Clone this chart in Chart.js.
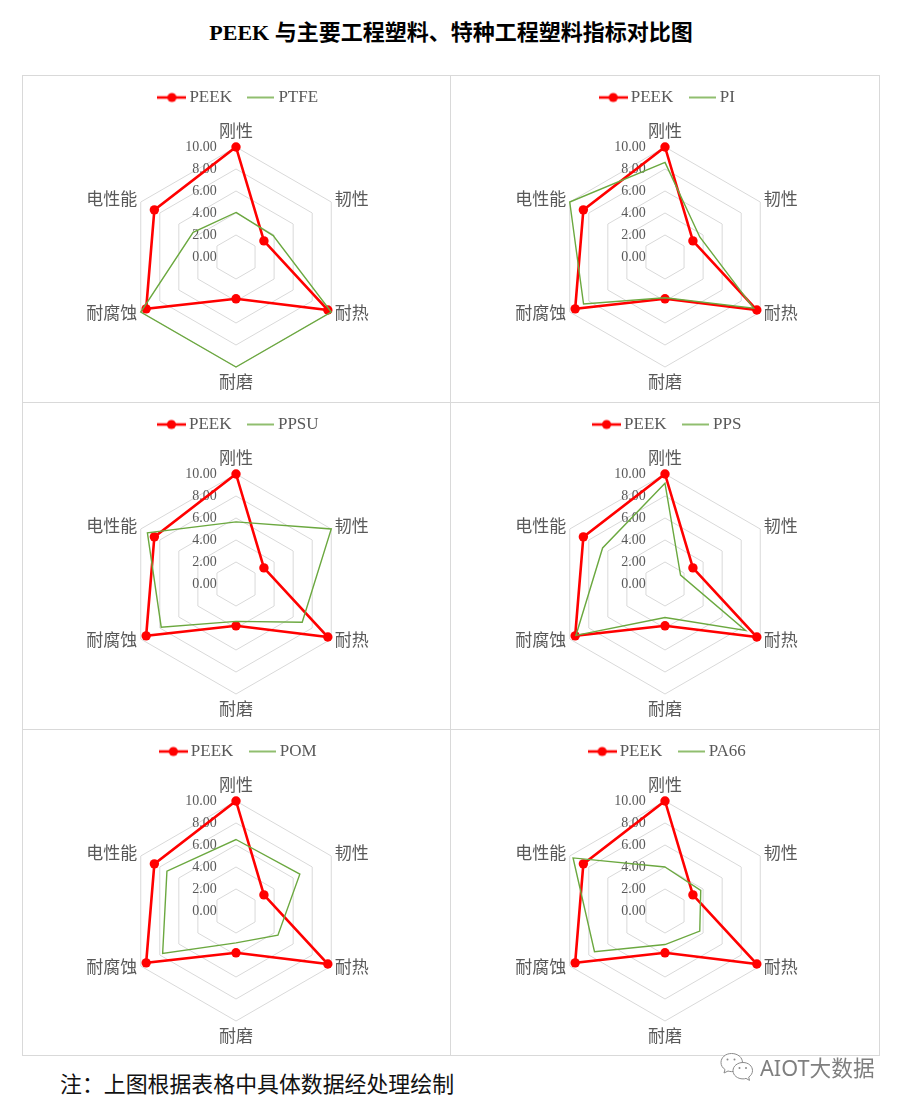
<!DOCTYPE html>
<html>
<head>
<meta charset="utf-8">
<script src="https://cdn.jsdelivr.net/npm/chart.js@4"></script>
<style>
  html, body { margin: 0; padding: 0; background: #fff; }
  body { position: relative; width: 904px; height: 1109px; overflow: hidden; font-family: "Liberation Serif", "Noto Sans CJK SC", serif; }
  #title { position: absolute; left: 0; width: 902px; top: 17px; text-align: center; font-size: 22px; line-height: 32px; font-weight: bold; color: #000; white-space: nowrap; }
  #note { position: absolute; left: 60px; top: 1067px; font-family: "Noto Sans CJK SC", serif; font-size: 21.9px; line-height: 32px; color: #111; white-space: nowrap; }
  .panel { position: absolute; box-sizing: border-box; width: 429px; height: 328px; border: 1px solid #d9d9d9; }
  .panel canvas { position: absolute; left: 0; top: 0; }
  #mark { position: absolute; left: 720px; top: 1052px; width: 160px; height: 32px; }
  #markText { position: absolute; left: 760px; top: 1053px; font-family: "Noto Sans", "Noto Sans CJK SC", sans-serif; font-size: 21.7px; line-height: 30px; color: #7f7f7f; white-space: nowrap; }
</style>
</head>
<body>
<div id="title">PEEK 与主要工程塑料、特种工程塑料指标对比图</div>
<div id="panels"></div>
<div id="note">注&#xFF1A;上图根据表格中具体数据经处理绘制</div>
<svg id="mark" viewBox="0 0 160 32" fill="#fff" stroke="#8a8a8a" stroke-width="1">
  <path d="M11.5 1.5c-6 0-10.500 4-10.500 9 0 3 1.500 5.300 4 7l-1 3.500 4-2c1.200.4 2.500.6 3.500.6 6 0 11-4 11-9s-4.500-9.100-11-9.100z"/>
  <path d="M23 10.500c-5.500 0-10 3.600-10 8.200s4.500 8.200 10 8.200c1 0 2-.1 3-.5l3.500 2-.8-3.300c2.300-1.500 3.800-3.800 3.800-6.400 0-4.600-4-8.200-9.500-8.200z"/>
  <circle cx="7.500" cy="7.500" r="1" fill="#8a8a8a" stroke="none"/>
  <circle cx="14.500" cy="7.500" r="1" fill="#8a8a8a" stroke="none"/>
  <circle cx="19.500" cy="16" r="1" fill="#8a8a8a" stroke="none"/>
  <circle cx="26" cy="16" r="1" fill="#8a8a8a" stroke="none"/>
</svg>
<div id="markText">AIOT大数据</div>

<script>
///////Data
const categories = ['刚性', '韧性', '耐热', '耐磨', '耐腐蚀', '电性能'];
const tickValues = [0, 2, 4, 6, 8, 10];

const peekValues = [10, 2.93, 9.64, 3.8, 9.43, 8.57];
const ptfeValues = [4.05, 3.9, 10, 10, 10, 4.5];
const piValues = [8.6, 3.65, 9.3, 3.7, 8.55, 10];
const ppsuValues = [5.65, 10, 6.95, 3.4, 7.85, 9.3];
const ppsValues = [9.15, 1.63, 8.45, 3.05, 9.35, 6.55];
const pomValues = [6.5, 6.7, 4.4, 2.9, 7.7, 7.25];
const pa66Values = [4, 3.75, 3.65, 3.05, 7.4, 9.65];

const compareNames = ['PTFE', 'PI', 'PPSU', 'PPS', 'POM', 'PA66'];
const compareValues = [ptfeValues, piValues, ppsuValues, ppsValues, pomValues, pa66Values];

///////Style
const RED = '#ff0000';
const GREEN = '#6ba83f';
const TEXT = '#595959';
const GRID = '#d9d9d9';
const FONT = '"Liberation Serif", "Noto Sans CJK SC", serif';

const panelLefts = [22, 450];
const panelTops = [75, 402, 729];

// where each category name sits, relative to the outer hexagon corner
const labelOffsets = [[0, -14], [3.5, -1.5], [3.5, 3], [0, 17], [-3.5, 3], [-3.5, -1.5]];
const labelAligns = ['center', 'left', 'left', 'center', 'right', 'right'];

//////////Legend keys (line, with a dot for PEEK)
function makeKey(color, lineWidth, width, dot) {
  const key = document.createElement('canvas');
  key.width = width;
  key.height = 12;
  const ctx = key.getContext('2d');
  ctx.strokeStyle = color;
  ctx.lineWidth = lineWidth;
  ctx.beginPath();
  ctx.moveTo(0, 6);
  ctx.lineTo(width, 6);
  ctx.stroke();
  if (dot) {
    ctx.fillStyle = color;
    ctx.beginPath();
    ctx.arc(width / 2, 6, 4.6, 0, Math.PI * 2);
    ctx.fill();
  }
  return key;
}
const peekKey = makeKey(RED, 2.6, 29, true);
const otherKey = makeKey(GREEN, 1.5, 27, false);

//////////Plugins
const categoryLabels = {
  id: 'categoryLabels',
  afterDatasetsDraw(chart) {
    const scale = chart.scales.r;
    const ctx = chart.ctx;
    ctx.save();
    ctx.font = '17px ' + FONT;
    ctx.fillStyle = TEXT;
    ctx.textBaseline = 'middle';
    categories.forEach((name, i) => {
      const corner = scale.getPointPosition(i, scale.drawingArea);
      ctx.textAlign = labelAligns[i];
      ctx.fillText(name, corner.x + labelOffsets[i][0], corner.y + labelOffsets[i][1]);
    });
    ctx.restore();
  },
};

// legend has no option for the gap under it, so grow its box after fit
const legendRoom = {
  id: 'legendRoom',
  beforeLayout(chart) {
    const legend = chart.legend;
    if (legend.roomAdded) return;
    legend.roomAdded = true;
    const fit = legend.fit;
    legend.fit = function () {
      fit.call(this);
      this.height = 70.7;
    };
  },
  afterLayout(chart) {
    chart.legend.left = 9; // row sits a little right of centre
  },
};

//////////Charts
const panelsDiv = document.querySelector('#panels');

compareNames.forEach((name, i) => {
  const panel = document.createElement('div');
  panel.className = 'panel';
  panel.style.left = panelLefts[i % 2] + 'px';
  panel.style.top = panelTops[Math.floor(i / 2)] + 'px';
  if (i % 2 === 1) panel.style.width = '430px';
  if (i >= 4) panel.style.height = '327px';
  const canvas = document.createElement('canvas');
  const w = i % 2 === 1 ? 428 : 426;
  canvas.width = w;
  canvas.height = 325;
  canvas.style.width = w + 'px';
  canvas.style.height = '325px';
  panel.appendChild(canvas);
  panelsDiv.appendChild(panel);

  new Chart(canvas.getContext('2d'), {
    type: 'radar',
    data: {
      labels: categories,
      datasets: [
        {
          label: 'PEEK',
          data: peekValues,
          order: 1,
          fill: false,
          borderColor: RED,
          backgroundColor: RED,
          borderWidth: 2.6,
          pointRadius: 4.7,
          pointBorderWidth: 0,
          pointBackgroundColor: RED,
        },
        {
          label: name,
          data: compareValues[i],
          order: 0,
          fill: false,
          borderColor: GREEN,
          borderWidth: 1.4,
          pointRadius: 0,
        },
      ],
    },
    options: {
      responsive: false,
      animation: false,
      layout: { padding: { top: -7, bottom: 26.5, left: 0, right: 0 } },
      scales: {
        r: {
          min: -0.001,
          max: 10,
          afterBuildTicks: (scale) => {
            scale.ticks = tickValues.map((value) => ({ value }));
          },
          angleLines: { display: false },
          grid: {
            color: (c) => (c.tick && c.tick.value === 0 ? 'transparent' : GRID),
            lineWidth: 1,
          },
          pointLabels: { display: false },
          ticks: {
            showLabelBackdrop: false,
            backdropPadding: 0,
            color: TEXT,
            font: { family: FONT, size: 14 },
            // trailing spaces push the centred text left of the axis
            callback: (v) => v.toFixed(2) + ' '.repeat(v === 10 ? 20 : 18),
          },
        },
      },
      plugins: {
        tooltip: { enabled: false },
        legend: {
          position: 'top',
          labels: {
            usePointStyle: true,
            pointStyleWidth: 18,
            padding: 20,
            color: TEXT,
            font: { family: FONT, size: 17 },
            generateLabels: (chart) => [
              { text: 'PEEK', pointStyle: peekKey, fontColor: TEXT, lineWidth: 0, hidden: false, datasetIndex: 0 },
              { text: name, pointStyle: otherKey, fontColor: TEXT, lineWidth: 0, hidden: false, datasetIndex: 1 },
            ],
          },
        },
      },
    },
    plugins: [categoryLabels, legendRoom],
  });
});
</script>
</body>
</html>
